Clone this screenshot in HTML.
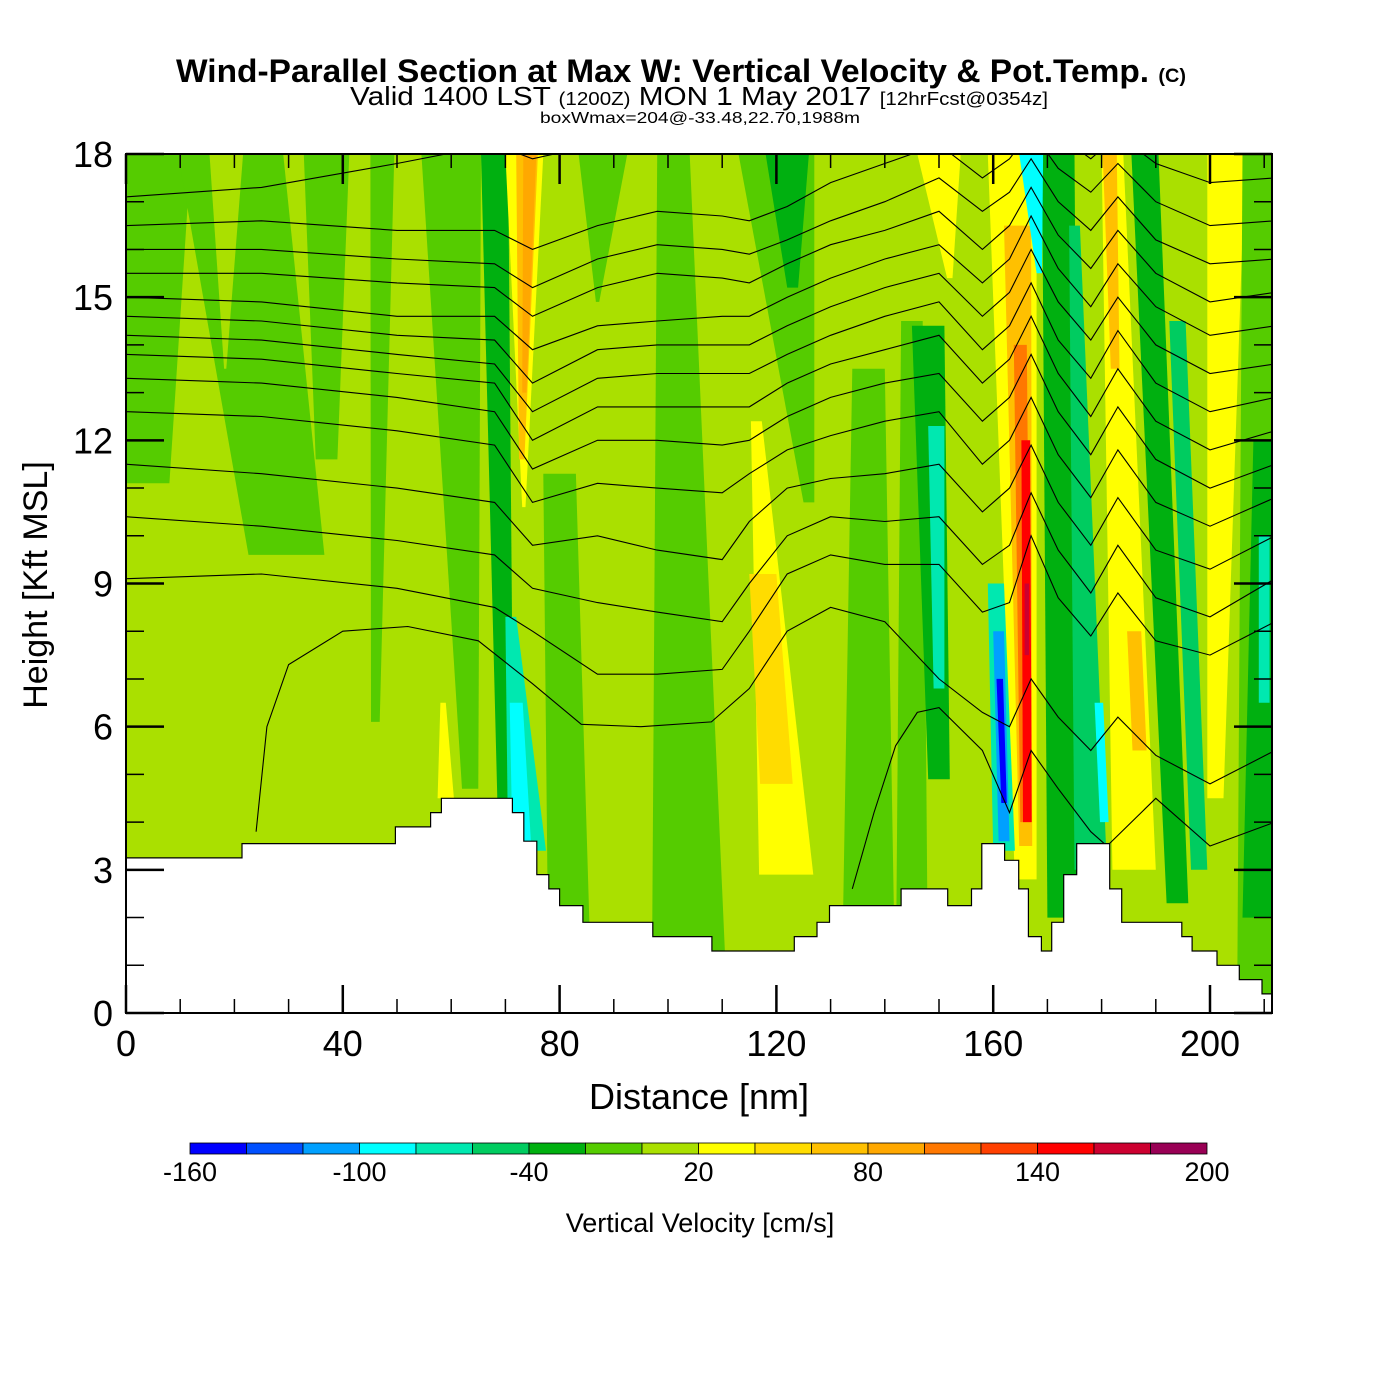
<!DOCTYPE html>
<html><head><meta charset="utf-8">
<style>
html,body{margin:0;padding:0;background:#fff;}
svg{display:block;font-family:"Liberation Sans",Arial,sans-serif;}
</style></head>
<body>
<svg id="chart" width="1400" height="1400" viewBox="0 0 1400 1400" xmlns="http://www.w3.org/2000/svg">
  <rect x="0" y="0" width="1400" height="1400" fill="#fff"/>
  <text x="176" y="82" font-size="32" font-weight="bold" textLength="1010" lengthAdjust="spacingAndGlyphs">Wind-Parallel Section at Max W: Vertical Velocity &amp; Pot.Temp. <tspan font-size="19">(C)</tspan></text>
  <text x="350" y="105" font-size="26" textLength="698" lengthAdjust="spacingAndGlyphs">Valid 1400 LST <tspan font-size="18">(1200Z)</tspan> MON 1 May 2017 <tspan font-size="18">[12hrFcst@0354z]</tspan></text>
  <text x="540" y="123" font-size="16" textLength="320" lengthAdjust="spacingAndGlyphs">boxWmax=204@-33.48,22.70,1988m</text>
  <defs><clipPath id="plotclip"><rect x="126" y="154" width="1146" height="859"/></clipPath></defs>
  <g id="field" clip-path="url(#plotclip)"></g>
  <g id="isen" clip-path="url(#plotclip)"></g>
  <g id="terrain" clip-path="url(#plotclip)"></g>
  <rect x="126" y="154" width="1146" height="859" fill="none" stroke="#000" stroke-width="2"/>
  <g id="axes"></g>
  <text x="699" y="1109" font-size="36" text-anchor="middle">Distance [nm]</text>
  <text x="0" y="0" font-size="34" text-anchor="middle" transform="translate(47,585) rotate(-90)">Height [Kft MSL]</text>
  <g id="cbar"></g>
  <text x="700" y="1232" font-size="27" text-anchor="middle">Vertical Velocity [cm/s]</text>
</svg>
<script>
// ---- data ----
const binEdges = [-160,-140,-120,-100,-80,-60,-40,-20,0,20,40,60,80,100,120,140,160,180,200];
const binColors = ['#0000ff','#0050ff','#00a0ff','#00ffff','#00e8b0','#00cc60','#00b010','#55cc00','#aae000','#ffff00','#ffdc00','#ffc000','#ffa800','#ff7800','#ff4000','#ff0000','#cc0030','#990055'];
const cbarLabels = [-160,-100,-40,20,80,140,200];
const xTicks = [0,40,80,120,160,200];
const yTicks = [0,3,6,9,12,15,18];
const backgroundValue = 10;
// plume features: [value, xBottom, halfWidthBottom, yBottom, xTop, halfWidthTop, yTop] (nm, kft)
const featValue = [-10,-10,10,-10,-10,-10,-10,-10,-10,-10,-30,30,50,-10,-10,-30,-70,30,
  -30,-70,-90,30,70,90,30,
  -30,30,70,110,150,170,-70,-110,-150,-90,-50,-90,-30,30,70,70,-50,30,-10,-30,-70];
const featXB = [4,29.6,18.3,37,46,63.5,82,87,104,126,123,121.8,120,137,145,150,150,152,
  70,74,73,73.4,73,73.5,59,
  173,166,166,166,166.3,166.2,162,162,162,168.5,178,180.5,194,186,187,182.5,198,201,209,209,210];
const featWB = [4,7,0.2,2,0.8,1.5,4,0.3,7,1,1,5,3,5,3,2,1,0.5,
  1.5,3.5,1.7,0.3,0.5,0.4,1.5,
  3,2,1.2,1,0.8,0.4,2,1,0.5,0.5,3,0.8,2,4,1.3,0.8,1.5,1.5,4,3,1];
const featYB = [11.1,9.6,13.5,11.6,6.1,4.7,0,14.9,0,10.7,15.2,2.9,4.8,0,0,4.9,6.8,15.4,
  4.5,3.4,3.6,10.6,11.6,13,4.5,
  2,2.8,3.5,4,4,7.5,3.4,3.6,4.4,15.5,3,4,2.3,3,5.5,13.5,3,4.5,0,2,6.5];
const featXT = [6,19.3,18.5,37,47.3,60,80,88,101,120,122,116.3,117.5,137,145,148,149.5,150,
  68,71,72,73.5,74,74.5,58.5,
  172,163.5,164.5,165,166,166.2,160.5,161,161.2,167,175,179.5,188,182,186,181.5,194,203,209,210,210];
const featWT = [6,9.7,3.1,4.2,2.2,5.5,3,4.5,3,7,4,1,2.5,3,2,3,1.5,4,
  2.5,1,1.2,3.5,2,1.2,0.5,
  3,4.5,2.5,1.2,0.8,0.4,1.5,1,0.6,2.2,1,0.8,2.5,2,1.3,1.3,1.5,3.5,3,2,1];
const featYT = [18,18,18,18,18,18,11.3,18,18,18,18,12.4,9.2,13.5,14.5,14.4,12.3,18,
  18,8.3,6.5,18,18,18,6.5,
  18,18,16.5,14,12,9,9,8,7,18,16.5,6.5,18,18,8,18,14.5,18,18,12,10];
// isentropes: heights (kft) at knots
const isoKnots = [0,25,50,68,75,87,98,110,115,122,130,140,150,158,163,167,172,178,183,190,200,212];
const isoLines = [
 [17.1,17.3,17.8,18.2,17.9,18.2,18.5,18.6,18.5,18.8,19,19,19,18.4,18.6,19,18.4,17.9,18.4,17.8,17.4,17.5],
 [16.5,16.6,16.4,16.4,16.0,16.5,16.8,16.7,16.6,16.9,17.4,17.8,18.2,17.5,17.9,18.5,17.7,17.2,17.8,17.0,16.5,16.6],
 [16.0,16.0,15.8,15.7,15.2,15.8,16.1,16.0,15.9,16.2,16.6,17.0,17.5,16.8,17.2,17.9,17.0,16.4,17.1,16.2,15.7,15.8],
 [15.5,15.5,15.3,15.2,14.6,15.2,15.5,15.4,15.3,15.7,16.1,16.4,16.8,16.0,16.5,17.3,16.3,15.6,16.4,15.5,14.9,15.1],
 [15.0,14.9,14.6,14.6,13.9,14.4,14.5,14.6,14.6,15.0,15.4,15.8,16.1,15.3,15.8,16.7,15.6,14.8,15.7,14.8,14.2,14.4],
 [14.6,14.5,14.2,14.1,13.2,13.9,14.0,14.0,14.0,14.4,14.8,15.2,15.5,14.6,15.1,16.0,14.9,14.1,15.0,14.0,13.4,13.6],
 [14.2,14.1,13.8,13.6,12.6,13.3,13.4,13.4,13.4,13.8,14.2,14.6,14.9,13.9,14.4,15.3,14.1,13.3,14.3,13.2,12.6,12.9],
 [13.8,13.7,13.4,13.2,12.0,12.7,12.7,12.7,12.7,13.2,13.6,13.9,14.2,13.2,13.7,14.6,13.4,12.5,13.5,12.4,11.8,12.2],
 [13.3,13.2,12.9,12.6,11.4,12.0,12.0,11.9,12.0,12.5,12.9,13.2,13.4,12.4,12.9,13.8,12.6,11.7,12.7,11.6,11.0,11.5],
 [12.6,12.5,12.2,11.9,10.7,11.1,11.0,10.9,11.3,11.8,12.1,12.4,12.6,11.5,12.0,12.9,11.7,10.8,11.8,10.7,10.2,10.8],
 [11.5,11.3,11.0,10.7,9.8,10.0,9.7,9.5,10.3,11.0,11.2,11.3,11.5,10.5,11.0,11.9,10.7,9.8,10.8,9.7,9.3,10.0],
 [10.4,10.2,9.9,9.6,8.9,8.6,8.4,8.2,9.0,10.0,10.4,10.3,10.4,9.4,9.8,10.9,9.7,8.8,9.8,8.7,8.3,9.1],
 [9.1,9.2,8.9,8.5,8.0,7.1,7.1,7.2,8.0,9.2,9.6,9.4,9.4,8.4,8.6,10.0,8.7,7.9,8.8,7.8,7.5,8.2]
];
const iso32X = [24,26,30,40,52,65,75,84,95,108,115,122,130,140,150,158,163,167,172,178,183,190,200,212];
const iso32H = [3.8,6.0,7.3,8.0,8.1,7.8,6.9,6.05,6.0,6.1,6.8,8.0,8.5,8.2,7.0,6.3,6.0,7.0,6.2,5.5,6.2,5.4,4.8,5.5];
const iso30X = [134,138,142,146,150,158,163,167,172,178,181,190,200,212];
const iso30H = [2.6,4.2,5.6,6.3,6.4,5.5,4.2,5.5,4.7,3.8,3.5,4.5,3.5,4.0];
// terrain steps
const terrainX = [0,21.4,49.7,56.2,58.2,71.3,73.4,75.8,78,80,84.3,97.2,108.1,123.3,127.5,129.8,143,151.6,156,157.9,162.1,164.7,166.5,168.9,170.8,173,175.4,181.5,183.7,194.8,196.7,201.3,205.4,209.6,212];
const terrainH = [3.25,3.55,3.9,4.2,4.5,4.2,3.6,2.9,2.6,2.25,1.9,1.6,1.3,1.6,1.9,2.25,2.6,2.25,2.6,3.55,3.2,2.6,1.6,1.3,1.9,2.9,3.55,2.6,1.9,1.6,1.3,1.0,0.7,0.4];

// ---- scales ----
const X0=126, PXN=5.42, Y0=1013, PYK=859/18;
function sx(v){return X0+v*PXN;}
function sy(v){return Y0-v*PYK;}
function colorOf(v){for(let i=0;i<binColors.length;i++){if(v<binEdges[i+1])return binColors[i];}return binColors[binColors.length-1];}
const NS='http://www.w3.org/2000/svg';
function mk(tag,attrs,parent){const e=document.createElementNS(NS,tag);for(const k in attrs)e.setAttribute(k,attrs[k]);parent.appendChild(e);return e;}

const field=document.getElementById('field');
const bg=mk('rect',{x:sx(0),y:sy(18),width:sx(212)-sx(0),height:sy(0)-sy(18),fill:colorOf(backgroundValue)},field);


for(let i=0;i<featValue.length;i++){
  const pts=[[featXB[i]-featWB[i],featYB[i]],[featXB[i]+featWB[i],featYB[i]],[featXT[i]+featWT[i],featYT[i]],[featXT[i]-featWT[i],featYT[i]]];
  const p=mk('polygon',{points:pts.map(q=>sx(q[0]).toFixed(1)+','+sy(q[1]).toFixed(1)).join(' '),fill:colorOf(featValue[i])},field);
  
  
}
const isen=document.getElementById('isen');
function line(xs,hs){
  const p=mk('polyline',{points:xs.map((x,j)=>sx(x).toFixed(1)+','+sy(hs[j]).toFixed(1)).join(' '),fill:'none',stroke:'#000','stroke-width':1.1},isen);
  
  
}
isoLines.forEach(h=>line(isoKnots,h));
line(iso32X,iso32H);
line(iso30X,iso30H);
const ter=document.getElementById('terrain');
let tp=[[terrainX[0],0]];
for(let i=0;i<terrainH.length;i++){tp.push([terrainX[i],terrainH[i]]);tp.push([terrainX[i+1],terrainH[i]]);}
tp.push([terrainX[terrainX.length-1],0]);
const tpoly=mk('polygon',{points:tp.map(q=>sx(q[0]).toFixed(1)+','+sy(q[1]).toFixed(1)).join(' '),fill:'#fff',stroke:'#000','stroke-width':1.2},ter);


const ax=document.getElementById('axes');
for(let v=0;v<=210;v+=10){
  const major=(v%40===0);
  const L=major?28:14, Lt=major?30:14;
  const t1=mk('line',{x1:sx(v),x2:sx(v),y1:Y0,y2:Y0-L,stroke:'#000','stroke-width':major?2.5:1.5},ax);
  
  
  const t2=mk('line',{x1:sx(v),x2:sx(v),y1:154,y2:154+Lt,stroke:'#000','stroke-width':major?2.5:1.5},ax);
  
  
}
for(let v=0;v<=18;v+=1){
  const major=(v%3===0);
  const L=major?38:18;
  const t1=mk('line',{x1:X0,x2:X0+L,y1:sy(v),y2:sy(v),stroke:'#000','stroke-width':major?2.5:1.5},ax);
  
  
  const t2=mk('line',{x1:1272,x2:1272-L,y1:sy(v),y2:sy(v),stroke:'#000','stroke-width':major?2.5:1.5},ax);
  
  
}
xTicks.forEach(v=>{
  const t=mk('text',{x:sx(v),y:1056,'font-size':36,'text-anchor':'middle'},ax);
  t.textContent=v;
  
  
});
yTicks.forEach(v=>{
  const t=mk('text',{x:113,y:sy(v)+13,'font-size':36,'text-anchor':'end'},ax);
  t.textContent=v;
  
  
});
const cb=document.getElementById('cbar');
const CB0=190, CB1=1207, CBW=(CB1-CB0)/binColors.length;
binColors.forEach((c,i)=>{
  const r=mk('rect',{x:CB0+i*CBW,y:1143,width:CBW,height:11,fill:c,stroke:'#000','stroke-width':0.8},cb);
  
  
});
cbarLabels.forEach(v=>{
  const t=mk('text',{x:CB0+(v-binEdges[0])/(binEdges[binEdges.length-1]-binEdges[0])*(CB1-CB0),y:1181,'font-size':27,'text-anchor':'middle'},cb);
  t.textContent=v;
  
  
});
</script>
</body></html>
